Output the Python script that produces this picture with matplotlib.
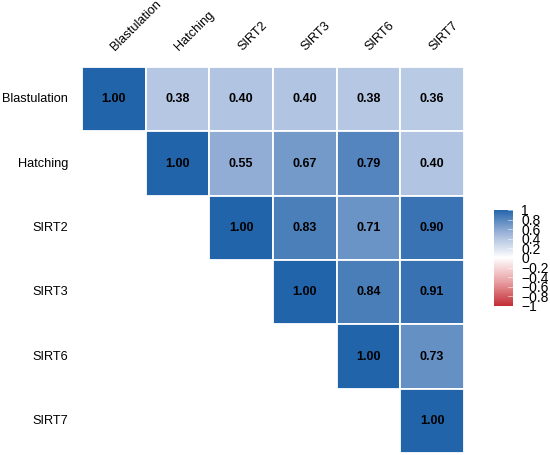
import numpy as np
import matplotlib
matplotlib.use("Agg")
import matplotlib.pyplot as plt
from matplotlib.colors import LinearSegmentedColormap

plt.rcParams['font.family'] = ['Liberation Sans', 'DejaVu Sans']

labels = ["Blastulation", "Hatching", "SIRT2", "SIRT3", "SIRT6", "SIRT7"]
row_blastulation = [1.00, 0.38, 0.40, 0.40, 0.38, 0.36]
row_hatching = [0.38, 1.00, 0.55, 0.67, 0.79, 0.40]
row_sirt2 = [0.40, 0.55, 1.00, 0.83, 0.71, 0.90]
row_sirt3 = [0.40, 0.67, 0.83, 1.00, 0.84, 0.91]
row_sirt6 = [0.38, 0.79, 0.71, 0.84, 1.00, 0.73]
row_sirt7 = [0.36, 0.40, 0.90, 0.91, 0.73, 1.00]
cbar_ticks = [1, 0.8, 0.6, 0.4, 0.2, 0, -0.2, -0.4, -0.6, -0.8, -1]

corr = np.array([row_blastulation, row_hatching, row_sirt2,
                 row_sirt3, row_sirt6, row_sirt7])
n = len(labels)
mask = np.tril(np.ones((n, n), dtype=bool), k=-1)

cmap = LinearSegmentedColormap.from_list(
    "rdbu", ["#C42F37", "#E9A1A4", "#FFFFFF", "#9FB6DA", "#2264AA"])

fig = plt.figure(figsize=(5.5, 4.55), dpi=100)
ax = fig.add_axes([0.149, 0.0044, 0.6946, 0.8483])

# draw only upper triangle cells
for i in range(n):
    for j in range(n):
        if mask[i, j]:
            continue
        ax.add_patch(plt.Rectangle((j - 0.5, i - 0.5), 1, 1,
                                   facecolor=cmap((corr[i, j] + 1) / 2),
                                   edgecolor="white", linewidth=1.3))
        ax.text(j, i, "%.2f" % corr[i, j], ha="center", va="center",
                fontsize=9, fontweight="bold", color="black")

ax.set_xlim(-0.5, n - 0.5)
ax.set_ylim(n - 0.5, -0.5)
ax.set_axis_off()

for i, lab in enumerate(labels):
    ax.text(-0.72, i, lab, ha="right", va="center", fontsize=9.2)
    ax.text(i + 0.05, -0.72, lab, ha="left", va="bottom", fontsize=9.2,
            rotation=45, rotation_mode="anchor", clip_on=False)

# colour legend
cax = fig.add_axes([0.898, 0.3275, 0.0345, 0.211])
grad = np.linspace(-1, 1, 200).reshape(-1, 1)
cax.imshow(grad, cmap=cmap, vmin=-1, vmax=1, aspect="auto", origin="lower",
           extent=[0, 1, -1, 1])
cax.set_xlim(0, 1)
cax.set_ylim(-1, 1)
cax.set_xticks([])
cax.yaxis.tick_right()
cax.set_yticks(cbar_ticks)
cax.set_yticklabels([("%g" % t).replace("-", "\u2212") for t in cbar_ticks],
                    fontsize=10, linespacing=0.8)
cax.tick_params(axis="y", length=0, pad=6)
for t in cbar_ticks:
    cax.plot([0.75, 1.0], [t, t], color="white", lw=0.6, alpha=0.6)
for s in cax.spines.values():
    s.set_visible(False)

fig.savefig("out.png", dpi=100)
